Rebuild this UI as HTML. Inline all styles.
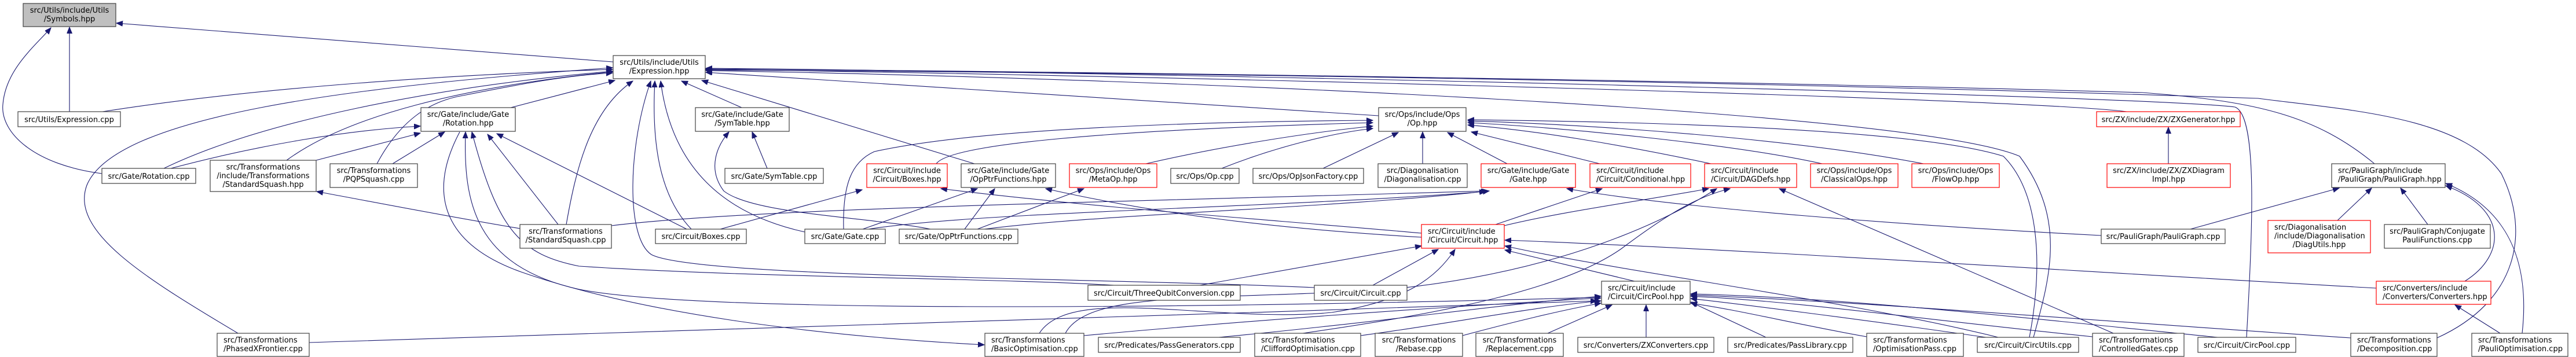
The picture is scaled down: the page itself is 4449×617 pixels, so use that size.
<!DOCTYPE html>
<html><head><meta charset="utf-8"><style>
html,body{margin:0;padding:0;background:#fff;}
svg{display:block;}
.n{fill:#fff;stroke:#404040;stroke-width:1.2;}
.r{fill:#fff;stroke:#ff0000;stroke-width:1.2;}
.g{fill:#bfbfbf;stroke:#404040;stroke-width:1.2;}
text{font-family:"DejaVu Sans","Liberation Sans",sans-serif;font-size:13px;fill:#000;}
.c{text-anchor:middle;}
path{fill:none;stroke:#191970;stroke-width:1.1;}
</style></head><body>
<svg width="4449" height="617" viewBox="0 0 4449 617" xmlns="http://www.w3.org/2000/svg">
<defs><marker id="a" markerWidth="12" markerHeight="10" refX="11" refY="4.5" orient="auto" markerUnits="userSpaceOnUse"><path d="M0,0 L11,4.5 L0,9 Z" style="fill:#191970;stroke:#191970;stroke-width:1"/></marker></defs>
<g marker-end="url(#a)">
<path d="M1059,107 L201,40"/>
<path d="M120,193 L120,47"/>
<path d="M176,300 C60,285 0,230 5,180 C10,120 60,80 88,48"/>
<path d="M177,193 C450,150 800,128 1058,120"/>
<path d="M283,291 C450,210 750,150 1058,123"/>
<path d="M411,576 C250,480 120,400 150,320 C200,200 600,150 1058,117"/>
<path d="M495,277 C600,200 800,150 1058,124"/>
<path d="M651,283 C690,210 740,175 800,165 C900,145 980,130 1058,126"/>
<path d="M882,186 L1062,139"/>
<path d="M978,388 C995,290 1020,190 1093,140"/>
<path d="M1194,396 C1140,340 1125,250 1131,140"/>
<path d="M1390,401 C1250,370 1160,290 1141,140"/>
<path d="M2270,497 C1900,480 1200,480 1125,440 C1080,410 1085,250 1124,140"/>
<path d="M1281,186 L1177,140"/>
<path d="M1683,283 L1212,139"/>
<path d="M2381,200 L1219,125"/>
<path d="M3673,193 C3500,170 2000,130 1219,120"/>
<path d="M3880,583 C3890,400 3900,200 3860,185 C3700,165 2000,125 1219,118"/>
<path d="M4101,283 C4000,200 3900,175 3700,160 C3000,140 2000,125 1219,119"/>
<path d="M4209,584 C4350,520 4370,400 4320,300 C4250,200 4050,190 3900,170 C3000,140 2000,125 1219,121"/>
<path d="M3512,583 C3540,480 3570,380 3488,270 C3300,190 2000,135 1219,122"/>
<path d="M1617,283 C1640,250 1900,225 2371,212"/>
<path d="M1979,283 C2100,255 2250,230 2371,218"/>
<path d="M2110,291 C2200,255 2300,230 2371,222"/>
<path d="M1457,396 C1455,320 1470,280 1510,262 C1700,220 2100,210 2371,208"/>
<path d="M2285,291 L2415,229"/>
<path d="M2457,283 L2457,228"/>
<path d="M2603,283 L2500,229"/>
<path d="M2763,283 L2541,228"/>
<path d="M2955,283 C2800,250 2650,225 2535,216"/>
<path d="M3147,283 C3000,250 2700,220 2535,212"/>
<path d="M3322,283 C3100,240 2750,215 2535,209"/>
<path d="M3505,583 C3530,450 3520,330 3460,270 C3300,220 2800,210 2535,207"/>
<path d="M295,291 C450,250 600,225 726,218"/>
<path d="M546,277 L726,230"/>
<path d="M678,283 L768,228"/>
<path d="M794,228 C740,330 760,420 900,470 C1100,540 1400,580 1700,596"/>
<path d="M2758,514 C2000,535 1200,540 1000,500 C820,460 800,350 804,228"/>
<path d="M1924,493 C1700,480 1300,480 1000,460 C900,440 860,400 815,228"/>
<path d="M534,592 C1200,575 2000,545 2758,520"/>
<path d="M964,388 L842,232"/>
<path d="M1186,396 L858,231"/>
<path d="M1325,291 L1299,228"/>
<path d="M1607,396 C1500,375 1300,370 1250,330 C1220,290 1240,250 1259,228"/>
<path d="M898,395 C750,370 650,350 547,331"/>
<path d="M1056,390 C1300,360 1900,350 2569,330"/>
<path d="M1244,396 L1489,328"/>
<path d="M1500,396 C1700,365 2200,360 2566,331"/>
<path d="M1490,396 L1688,326"/>
<path d="M1666,396 L1718,326"/>
<path d="M1688,396 L1872,326"/>
<path d="M1700,396 C1900,370 2300,360 2572,330"/>
<path d="M2455,403 C2200,380 1900,360 1625,326"/>
<path d="M2455,410 C2200,395 2000,370 1806,326"/>
<path d="M3629,407 C3300,390 2900,360 2706,326"/>
<path d="M2583,388 L2767,326"/>
<path d="M2598,390 C2700,365 2850,345 2951,326"/>
<path d="M1840,576 C1880,500 2100,520 2400,500 C2700,470 2880,380 2965,326"/>
<path d="M2250,576 C2500,540 2700,500 2800,430 C2880,370 2930,340 2988,326"/>
<path d="M3650,576 L3073,326"/>
<path d="M2072,493 L2455,425"/>
<path d="M2371,493 L2484,431"/>
<path d="M1795,576 C1850,490 2100,560 2300,540 C2430,520 2480,480 2513,431"/>
<path d="M4104,498 C3600,470 3000,430 2599,415"/>
<path d="M3451,583 C3200,520 2800,470 2599,425"/>
<path d="M2823,486 L2599,432"/>
<path d="M1872,580 C2200,550 2500,530 2765,515"/>
<path d="M2350,580 C2500,560 2650,530 2765,520"/>
<path d="M2526,580 C2600,560 2700,535 2765,524"/>
<path d="M2673,576 L2784,527"/>
<path d="M2843,583 L2843,527"/>
<path d="M3050,583 L2920,522"/>
<path d="M3224,582 C3100,560 3000,535 2920,524"/>
<path d="M3430,583 C3200,550 3000,525 2920,516"/>
<path d="M3614,582 C3300,550 3100,520 2920,512"/>
<path d="M3830,583 C3500,550 3200,515 2920,508"/>
<path d="M4060,584 C3700,560 3200,520 2920,510"/>
<path d="M2105,583 C2400,555 2600,525 2765,512"/>
<path d="M3745,283 L3745,220"/>
<path d="M3783,396 L4040,325"/>
<path d="M4037,381 L4096,325"/>
<path d="M4193,388 L4146,325"/>
<path d="M4257,486 C4330,440 4330,360 4224,321"/>
<path d="M4356,576 C4370,450 4330,360 4224,317"/>
<path d="M4318,576 L4240,527"/>
</g>
<rect class="g" x="40" y="6" width="160" height="40"/><text class="c" x="120" y="22">src/Utils/include/Utils</text><text class="c" x="120" y="37">/Symbols.hpp</text>
<rect class="n" x="31" y="193" width="177" height="26"/><text class="c" x="119.5" y="211">src/Utils/Expression.cpp</text>
<rect class="n" x="176" y="291" width="162" height="26"/><text class="c" x="257" y="309">src/Gate/Rotation.cpp</text>
<rect class="n" x="363" y="277" width="183" height="54"/><text class="c" x="454.5" y="293">src/Transformations</text><text class="c" x="454.5" y="308">/include/Transformations</text><text class="c" x="454.5" y="323">/StandardSquash.hpp</text>
<rect class="n" x="570" y="283" width="151" height="41"/><text class="c" x="645.5" y="299">src/Transformations</text><text class="c" x="645.5" y="314">/PQPSquash.cpp</text>
<rect class="n" x="375" y="576" width="159" height="40"/><text x="386" y="592">src/Transformations</text><text x="386" y="607">/PhasedXFrontier.cpp</text>
<rect class="n" x="1059" y="96" width="159" height="40"/><text class="c" x="1138.5" y="112">src/Utils/include/Utils</text><text class="c" x="1138.5" y="127">/Expression.hpp</text>
<rect class="n" x="727" y="186" width="163" height="41"/><text class="c" x="808.5" y="202">src/Gate/include/Gate</text><text class="c" x="808.5" y="217">/Rotation.hpp</text>
<rect class="n" x="1201" y="186" width="162" height="41"/><text class="c" x="1282" y="202">src/Gate/include/Gate</text><text class="c" x="1282" y="217">/SymTable.hpp</text>
<rect class="n" x="1252" y="291" width="170" height="26"/><text class="c" x="1337" y="309">src/Gate/SymTable.cpp</text>
<rect class="n" x="898" y="388" width="158" height="41"/><text class="c" x="977" y="404">src/Transformations</text><text class="c" x="977" y="419">/StandardSquash.cpp</text>
<rect class="n" x="1132" y="396" width="157" height="25"/><text class="c" x="1210.5" y="413">src/Circuit/Boxes.cpp</text>
<rect class="n" x="1390" y="396" width="139" height="25"/><text class="c" x="1459.5" y="413">src/Gate/Gate.cpp</text>
<rect class="r" x="1497" y="283" width="139" height="41"/><text class="c" x="1566.5" y="299">src/Circuit/include</text><text class="c" x="1566.5" y="314">/Circuit/Boxes.hpp</text>
<rect class="n" x="1660" y="283" width="163" height="41"/><text class="c" x="1741.5" y="299">src/Gate/include/Gate</text><text class="c" x="1741.5" y="314">/OpPtrFunctions.hpp</text>
<rect class="r" x="1847" y="283" width="151" height="41"/><text class="c" x="1922.5" y="299">src/Ops/include/Ops</text><text class="c" x="1922.5" y="314">/MetaOp.hpp</text>
<rect class="n" x="2022" y="291" width="118" height="26"/><text class="c" x="2081" y="309">src/Ops/Op.cpp</text>
<rect class="n" x="2164" y="291" width="191" height="26"/><text class="c" x="2259.5" y="309">src/Ops/OpJsonFactory.cpp</text>
<rect class="n" x="1553" y="396" width="205" height="25"/><text class="c" x="1655.5" y="413">src/Gate/OpPtrFunctions.cpp</text>
<rect class="n" x="1879" y="493" width="263" height="26"/><text class="c" x="2010.5" y="511">src/Circuit/ThreeQubitConversion.cpp</text>
<rect class="n" x="1701" y="576" width="171" height="40"/><text x="1712" y="592">src/Transformations</text><text x="1712" y="607">/BasicOptimisation.cpp</text>
<rect class="n" x="1897" y="583" width="245" height="26"/><text class="c" x="2019.5" y="601">src/Predicates/PassGenerators.cpp</text>
<rect class="n" x="2167" y="576" width="183" height="40"/><text x="2178" y="592">src/Transformations</text><text x="2178" y="607">/CliffordOptimisation.cpp</text>
<rect class="n" x="2381" y="186" width="151" height="41"/><text class="c" x="2456.5" y="202">src/Ops/include/Ops</text><text class="c" x="2456.5" y="217">/Op.hpp</text>
<rect class="n" x="2380" y="283" width="154" height="41"/><text class="c" x="2457" y="299">src/Diagonalisation</text><text class="c" x="2457" y="314">/Diagonalisation.cpp</text>
<rect class="r" x="2558" y="283" width="163" height="41"/><text class="c" x="2639.5" y="299">src/Gate/include/Gate</text><text class="c" x="2639.5" y="314">/Gate.hpp</text>
<rect class="r" x="2746" y="283" width="174" height="41"/><text x="2757" y="299">src/Circuit/include</text><text x="2757" y="314">/Circuit/Conditional.hpp</text>
<rect class="r" x="2944" y="283" width="159" height="41"/><text x="2955" y="299">src/Circuit/include</text><text x="2955" y="314">/Circuit/DAGDefs.hpp</text>
<rect class="r" x="2455" y="388" width="143" height="41"/><text x="2466" y="404">src/Circuit/include</text><text x="2466" y="419">/Circuit/Circuit.hpp</text>
<rect class="n" x="2270" y="493" width="160" height="26"/><text class="c" x="2350" y="511">src/Circuit/Circuit.cpp</text>
<rect class="n" x="2766" y="486" width="153" height="40"/><text x="2777" y="502">src/Circuit/include</text><text x="2777" y="517">/Circuit/CircPool.hpp</text>
<rect class="n" x="2375" y="576" width="151" height="40"/><text class="c" x="2450.5" y="592">src/Transformations</text><text class="c" x="2450.5" y="607">/Rebase.cpp</text>
<rect class="n" x="2549" y="576" width="151" height="40"/><text class="c" x="2624.5" y="592">src/Transformations</text><text class="c" x="2624.5" y="607">/Replacement.cpp</text>
<rect class="n" x="2725" y="583" width="235" height="26"/><text class="c" x="2842.5" y="601">src/Converters/ZXConverters.cpp</text>
<rect class="r" x="3127" y="283" width="151" height="41"/><text class="c" x="3202.5" y="299">src/Ops/include/Ops</text><text class="c" x="3202.5" y="314">/ClassicalOps.hpp</text>
<rect class="r" x="3302" y="283" width="151" height="41"/><text class="c" x="3377.5" y="299">src/Ops/include/Ops</text><text class="c" x="3377.5" y="314">/FlowOp.hpp</text>
<rect class="r" x="3621" y="193" width="248" height="26"/><text class="c" x="3745" y="211">src/ZX/include/ZX/ZXGenerator.hpp</text>
<rect class="r" x="3639" y="283" width="213" height="41"/><text class="c" x="3745.5" y="299">src/ZX/include/ZX/ZXDiagram</text><text class="c" x="3745.5" y="314">Impl.hpp</text>
<rect class="n" x="3629" y="396" width="214" height="25"/><text class="c" x="3736" y="413">src/PauliGraph/PauliGraph.cpp</text>
<rect class="n" x="2984" y="583" width="216" height="26"/><text class="c" x="3092" y="601">src/Predicates/PassLibrary.cpp</text>
<rect class="n" x="3224" y="576" width="167" height="40"/><text x="3235" y="592">src/Transformations</text><text x="3235" y="607">/OptimisationPass.cpp</text>
<rect class="n" x="3415" y="583" width="175" height="26"/><text class="c" x="3502.5" y="601">src/Circuit/CircUtils.cpp</text>
<rect class="n" x="3614" y="576" width="158" height="40"/><text x="3625" y="592">src/Transformations</text><text x="3625" y="607">/ControlledGates.cpp</text>
<rect class="n" x="4027" y="283" width="196" height="41"/><text x="4038" y="299">src/PauliGraph/include</text><text x="4038" y="314">/PauliGraph/PauliGraph.hpp</text>
<rect class="r" x="3917" y="381" width="177" height="56"/><text x="3928" y="397">src/Diagonalisation</text><text x="3928" y="412">/include/Diagonalisation</text><text class="c" x="4005.5" y="427">/DiagUtils.hpp</text>
<rect class="n" x="4118" y="388" width="183" height="41"/><text class="c" x="4209.5" y="404">src/PauliGraph/Conjugate</text><text class="c" x="4209.5" y="419">PauliFunctions.cpp</text>
<rect class="r" x="4104" y="486" width="198" height="40"/><text x="4115" y="502">src/Converters/include</text><text x="4115" y="517">/Converters/Converters.hpp</text>
<rect class="n" x="3796" y="583" width="169" height="26"/><text class="c" x="3880.5" y="601">src/Circuit/CircPool.cpp</text>
<rect class="n" x="4060" y="576" width="149" height="40"/><text x="4071" y="592">src/Transformations</text><text x="4071" y="607">/Decomposition.cpp</text>
<rect class="n" x="4269" y="576" width="166" height="40"/><text x="4280" y="592">src/Transformations</text><text x="4280" y="607">/PauliOptimisation.cpp</text>
</svg>
</body></html>
